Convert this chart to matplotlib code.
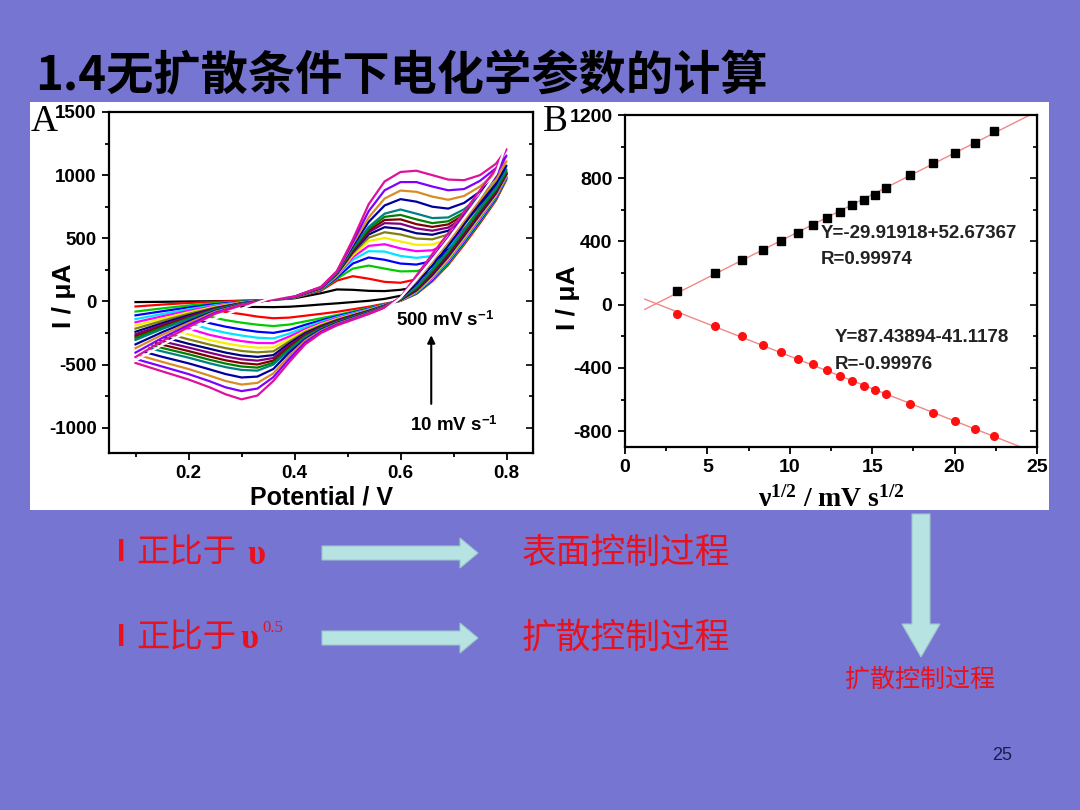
import numpy as np
import matplotlib
matplotlib.use("Agg")
import matplotlib.pyplot as plt
from matplotlib.patches import Rectangle, Polygon
from matplotlib.ticker import MultipleLocator
from matplotlib.transforms import Bbox, TransformedBbox

nan = np.nan

# ---------------- panel A : CVs at increasing scan rate ----------------
scan_rates = [10, 30, 50, 70, 90, 110, 130, 150, 170, 190, 210, 230, 250, 300, 350, 400, 450, 500]
curve_colors = ["#000000", "#FF0000", "#00CC00", "#0000FF", "#00E5FF", "#FF00FF",
                "#F5F000", "#808010", "#000080", "#800080", "#800000", "#008000",
                "#008080", "#0000A0", "#D98C26", "#8000FF", "#E0109A", "#FFFFFF"]

# forward sweep (0.1 -> 0.8 V)
E_fwd = [0.10, 0.15, 0.20, 0.25, 0.30, 0.35, 0.40, 0.45, 0.48, 0.51,
         0.54, 0.57, 0.60, 0.63, 0.66, 0.69, 0.72, 0.75, 0.78, 0.80]
I_fwd = [
    [-5, -3, 0, 2, 5, 10, 25, 65, 95, 92, 84, 82, 92, 112, 250, 420, 590, 760, 920, 1010],
    [-40, -25, -12, -2, 5, 12, 30, 85, 165, 200, 180, 155, 148, 175, 240, 390, 550, 710, 870, 965],
    [-80, -55, -32, -14, 0, 10, 30, 90, 180, 260, 284, 260, 238, 240, 275, 380, 540, 700, 860, 975],
    [-110, -78, -48, -22, -3, 10, 32, 95, 190, 300, 348, 330, 300, 292, 320, 400, 545, 705, 865, 980],
    [-140, -100, -62, -30, -6, 10, 33, 98, 200, 330, 398, 395, 360, 345, 360, 430, 560, 715, 870, 985],
    [-165, -118, -74, -36, -8, 10, 34, 100, 205, 350, 440, 453, 420, 398, 405, 460, 580, 725, 880, 990],
    [-190, -136, -86, -42, -10, 10, 35, 102, 210, 365, 478, 503, 475, 448, 450, 495, 600, 740, 890, 1000],
    [-215, -154, -98, -48, -12, 10, 35, 104, 215, 380, 505, 548, 530, 498, 492, 530, 625, 755, 900, 1005],
    [-240, -172, -110, -54, -14, 10, 36, 105, 218, 392, 530, 588, 575, 540, 528, 560, 645, 770, 910, 1010],
    [-260, -186, -120, -58, -16, 10, 36, 106, 220, 400, 548, 620, 615, 578, 560, 585, 665, 785, 920, 1015],
    [-275, -197, -127, -62, -17, 10, 37, 107, 222, 408, 562, 645, 650, 612, 590, 610, 685, 800, 930, 1020],
    [-290, -208, -134, -65, -18, 10, 37, 108, 224, 415, 575, 670, 685, 650, 620, 635, 705, 815, 940, 1030],
    [-305, -219, -141, -68, -19, 10, 38, 109, 226, 425, 590, 695, 728, 695, 660, 665, 730, 835, 955, 1045],
    [-340, -244, -157, -76, -22, 10, 38, 110, 230, 440, 630, 760, 810, 790, 750, 735, 780, 870, 985, 1075],
    [-370, -265, -171, -82, -25, 10, 39, 112, 233, 455, 665, 815, 878, 868, 830, 805, 835, 910, 1020, 1110],
    [-405, -290, -187, -90, -28, 10, 39, 113, 236, 470, 715, 880, 945, 945, 910, 880, 890, 955, 1055, 1155],
    [-440, -315, -203, -98, -30, 10, 40, 115, 240, 490, 770, 950, 1025, 1035, 1000, 965, 960, 1000, 1090, 1205],
    [-470, -345, -235, -135, -58, 20, 60, 150, 290, 560, 840, 1030, 1110, 1120, 1095, 1060, 1050, 1080, 1160, 1250],
]

# reverse sweep (0.8 -> lower limit)
E_rev = [0.80, 0.78, 0.75, 0.72, 0.69, 0.66, 0.63, 0.60, 0.57, 0.54, 0.51, 0.48,
         0.45, 0.42, 0.39, 0.36, 0.33, 0.30, 0.27, 0.24, 0.20, 0.15, 0.10]
I_rev = [
    [1010, 830, 640, 470, 310, 175, 70, 45, 20, 5, -5, -15, -24, -34, -42, -45, -44, nan, nan, nan, nan, nan, nan],
    [965, 800, 620, 450, 290, 160, 60, 5, -18, -42, -62, -82, -98, -113, -128, -133, -120, -100, nan, nan, nan, nan, nan],
    [975, 810, 632, 462, 300, 166, 62, 5, -22, -52, -80, -108, -133, -158, -183, -195, -184, -168, -148, nan, nan, nan, nan],
    [980, 818, 642, 472, 310, 172, 66, 6, -25, -58, -88, -117, -150, -185, -226, -249, -240, -222, -200, -172, nan, nan, nan],
    [985, 826, 652, 482, 318, 180, 70, 7, -27, -62, -94, -125, -162, -205, -255, -293, -287, -270, -248, -220, nan, nan, nan],
    [990, 833, 662, 492, 328, 188, 74, 8, -29, -66, -99, -132, -172, -220, -278, -330, -329, -314, -292, -265, -215, nan, nan],
    [1000, 842, 673, 503, 338, 196, 78, 9, -31, -69, -104, -139, -181, -232, -300, -364, -366, -353, -332, -305, -260, nan, nan],
    [1005, 850, 683, 513, 348, 204, 82, 10, -32, -72, -108, -145, -189, -242, -318, -395, -403, -392, -370, -342, -300, nan, nan],
    [1010, 858, 693, 524, 358, 212, 88, 12, -34, -75, -112, -150, -196, -252, -333, -425, -439, -428, -405, -375, -335, nan, nan],
    [1015, 866, 703, 535, 368, 222, 94, 14, -35, -78, -116, -154, -202, -262, -348, -448, -469, -458, -436, -406, -365, -315, nan],
    [1020, 875, 714, 546, 378, 232, 100, 16, -36, -80, -119, -158, -207, -270, -362, -468, -499, -488, -466, -436, -393, -342, nan],
    [1030, 885, 725, 558, 390, 242, 108, 18, -37, -82, -122, -162, -212, -278, -375, -485, -524, -515, -492, -462, -418, -368, nan],
    [1045, 898, 738, 570, 402, 254, 116, 20, -39, -85, -125, -166, -217, -285, -385, -500, -548, -542, -520, -490, -445, -395, nan],
    [1075, 930, 775, 610, 440, 285, 140, 25, -41, -88, -130, -171, -225, -300, -405, -535, -595, -602, -575, -538, -490, -438, nan],
    [1110, 960, 805, 640, 470, 315, 165, 28, -44, -92, -135, -177, -232, -310, -430, -570, -645, -658, -630, -588, -535, -478, nan],
    [1155, 1000, 840, 675, 505, 345, 185, 30, -47, -96, -140, -183, -240, -325, -455, -600, -690, -710, -680, -632, -575, -515, nan],
    [1205, 1050, 880, 710, 540, 375, 205, 32, -50, -100, -145, -190, -250, -340, -480, -630, -745, -775, -735, -680, -618, -553, nan],
    [1250, 1010, 830, 660, 490, 330, 175, 29, -70, -135, -190, -245, -315, -420, -570, -730, -840, -880, -840, -780, -700, -620, nan],
]
rev_end_E = [0.300, 0.268, 0.237, 0.218, 0.205, 0.190, 0.177, 0.165, 0.155,
             0.146, 0.139, 0.132, 0.126, 0.117, 0.110, 0.104, 0.100, 0.100]
rev_end_I = [-42, -82, -118, -151, -177, -205, -233, -260, -285,
             -308, -330, -350, -370, -400, -430, -460, -487, -545]

# ---------------- panel B : peak current vs sqrt(scan rate) ----------------
ipa = [88, 200, 282, 345, 402, 455, 505, 547, 587, 629, 663, 695, 741, 823, 895, 960, 1025, 1097]
ipc = [-59, -137, -200, -255, -301, -343, -375, -411, -451, -484, -514, -541, -564, -627, -684, -737, -783, -832]
fit_text_a = ["Y=-29.91918+52.67367", "R=0.99974"]
fit_text_c = ["Y=87.43894-41.1178", "R=-0.99976"]

bg = "#7676D2"
red_txt = "#E8121E"
arrow_col = "#B7E3E3"

plt.rcParams["font.family"] = ["Liberation Sans", "Noto Sans CJK SC", "DejaVu Sans"]
plt.rcParams["font.weight"] = "bold"
plt.rcParams["mathtext.fontset"] = "custom"
plt.rcParams["mathtext.rm"] = "Liberation Serif:bold"
plt.rcParams["mathtext.sf"] = "Liberation Sans:bold"
plt.rcParams["mathtext.default"] = "rm"
plt.rcParams["axes.unicode_minus"] = False

fig = plt.figure(figsize=(10.8, 8.1), dpi=100, facecolor=bg)

# slide layer in pixel coordinates
ov = fig.add_axes([0, 0, 1, 1], zorder=0)
ov.set_xlim(0, 1080)
ov.set_ylim(810, 0)
ov.axis("off")
ov.add_patch(Rectangle((30, 102), 1019, 408, facecolor="white", edgecolor="none"))

ov.text(35, 76, "1.4无扩散条件下电化学参数的计算", fontsize=34, fontweight="heavy",
        family=["Noto Sans CJK SC"], color="black", ha="left", va="center")
ov.text(31, 122, "A", family="Liberation Serif", fontweight="normal", fontsize=27, ha="left", va="center")
ov.text(543, 122, "B", family="Liberation Serif", fontweight="normal", fontsize=27, ha="left", va="center")

# ---- panel A ----
ax_a = fig.add_axes([109 / 1080, 1 - 453 / 810, 424 / 1080, 341 / 810], zorder=1)
for k in range(len(scan_rates)):
    E = np.concatenate([E_fwd, E_rev, [rev_end_E[k]]])
    I = np.concatenate([np.array(I_fwd[k], float), np.array(I_rev[k], float), [rev_end_I[k]]])
    ok = ~np.isnan(I)
    ax_a.plot(E[ok], I[ok], color=curve_colors[k], lw=1.6, solid_joinstyle="round")

ax_a.set_xlim(0.05, 0.85)
ax_a.set_ylim(-1200, 1500)
ax_a.xaxis.set_minor_locator(MultipleLocator(0.1))
ax_a.yaxis.set_major_locator(MultipleLocator(500))
ax_a.yaxis.set_minor_locator(MultipleLocator(250))
ax_a.set_xticks([0.2, 0.4, 0.6, 0.8])
ax_a.set_xticklabels(["0.2", "0.4", "0.6", "0.8"])
ax_a.tick_params(which="both", direction="out", width=1.3, labelsize=13.5, pad=4)
ax_a.tick_params(which="major", length=5)
ax_a.tick_params(which="minor", length=3)
ax_a.set_xlabel("Potential / V", fontsize=18, fontweight="bold")
ax_a.xaxis.set_label_coords(0.5, -0.095)
ax_a.set_ylabel("I / μA", fontsize=19, fontweight="bold")
ax_a.yaxis.set_label_coords(-0.078, 0.46)
for s in ax_a.spines.values():
    s.set_linewidth(1.6)
sec_a = ax_a.secondary_yaxis("right")
sec_a.yaxis.set_major_locator(MultipleLocator(500))
sec_a.yaxis.set_minor_locator(MultipleLocator(250))
sec_a.tick_params(which="both", direction="in", labelright=False, width=1.2)
sec_a.tick_params(which="major", length=5)
sec_a.tick_params(which="minor", length=3)

ax_a.text(0.592, -151, r"500 mV s$^{\mathsf{-1}}$", fontsize=13.5, ha="left", va="center")
ax_a.text(0.617, -984, r"10 mV s$^{\mathsf{-1}}$", fontsize=13.5, ha="left", va="center")
ax_a.annotate("", xy=(0.658, -246), xytext=(0.658, -833),
              arrowprops=dict(arrowstyle="-|>", lw=1.5, color="black", mutation_scale=11))

# ---- panel B ----
ax_b = fig.add_axes([625 / 1080, 1 - 447 / 810, 412 / 1080, 332 / 810], zorder=1)
sqrt_v = np.sqrt(scan_rates)
fit_x = np.array([1.2, 24.6])
pa = np.polyfit(sqrt_v, ipa, 1)
pc = np.polyfit(sqrt_v, ipc, 1)
ax_b.plot(fit_x, np.polyval(pa, fit_x), color="#F08888", lw=1.0)
ax_b.plot(fit_x, np.polyval(pc, fit_x), color="#F08888", lw=1.0)
ax_b.plot(sqrt_v, ipa, "s", color="black", ms=5.5)
ax_b.plot(sqrt_v, ipc, "o", color="#FF1010", ms=5.5)

ax_b.set_xlim(0, 25)
ax_b.set_ylim(-900, 1200)
ax_b.xaxis.set_major_locator(MultipleLocator(5))
ax_b.xaxis.set_minor_locator(MultipleLocator(2.5))
ax_b.yaxis.set_major_locator(MultipleLocator(400))
ax_b.yaxis.set_minor_locator(MultipleLocator(200))
ax_b.tick_params(which="both", direction="out", width=1.3, labelsize=14, pad=4)
ax_b.tick_params(which="major", length=5)
ax_b.tick_params(which="minor", length=3)
ax_b.set_ylabel("I / μA", fontsize=19, fontweight="bold")
ax_b.yaxis.set_label_coords(-0.11, 0.45)
ax_b.set_xlabel(r"ν$^{1/2}$ / mV s$^{1/2}$", family="Liberation Serif", fontsize=20, fontweight="bold")
ax_b.xaxis.set_label_coords(0.5, -0.118)
for s in ax_b.spines.values():
    s.set_linewidth(1.6)
sec_b = ax_b.secondary_yaxis("right")
sec_b.yaxis.set_major_locator(MultipleLocator(400))
sec_b.yaxis.set_minor_locator(MultipleLocator(200))
sec_b.tick_params(which="both", direction="in", labelright=False, width=1.2)
sec_b.tick_params(which="major", length=5)
sec_b.tick_params(which="minor", length=3)

ax_b.text(11.9, 452, fit_text_a[0], fontsize=13.5, color="#222222", ha="left", va="center")
ax_b.text(11.9, 284, fit_text_a[1], fontsize=13.5, color="#222222", ha="left", va="center")
ax_b.text(12.7, -210, fit_text_c[0], fontsize=13.5, color="#222222", ha="left", va="center")
ax_b.text(12.7, -379, fit_text_c[1], fontsize=13.5, color="#222222", ha="left", va="center")

# the picture is cropped just under the B axis title
crop = TransformedBbox(Bbox.from_extents(30 / 1080, 1 - 510 / 810, 1049 / 1080, 1 - 102 / 810), fig.transFigure)
ax_b.xaxis.label.set_clip_box(crop)
ax_b.xaxis.label.set_clip_on(True)

# ---- slide notes below the figure ----
for yc, sup in [(553, False), (638, True)]:
    ov.text(117, yc, "I", color=red_txt, fontsize=22, fontweight="bold", ha="left", va="center")
    ov.text(136, yc, "正比于", color=red_txt, fontsize=24, fontweight="normal",
            family=["Noto Sans CJK SC"], ha="left", va="center")
    if sup:
        ov.text(240, yc + 2, "υ", color=red_txt, fontsize=25, fontweight="bold",
                family="Liberation Serif", ha="left", va="center")
        ov.text(262, yc - 10, "0.5", color=red_txt, fontsize=12, fontweight="normal",
                family="Liberation Serif", ha="left", va="center")
    else:
        ov.text(247, yc + 2, "υ", color=red_txt, fontsize=25, fontweight="bold",
                family="Liberation Serif", ha="left", va="center")
    x0, x1, xh = 322, 478, 460
    ov.add_patch(Polygon([(x0, yc - 7), (xh, yc - 7), (xh, yc - 15), (x1, yc),
                          (xh, yc + 15), (xh, yc + 7), (x0, yc + 7)],
                         closed=True, facecolor=arrow_col, edgecolor="#9CC8C8", lw=0.8))

ov.text(522, 553, "表面控制过程", color=red_txt, fontsize=25, fontweight="normal",
        family=["Noto Sans CJK SC"], ha="left", va="center")
ov.text(522, 638, "扩散控制过程", color=red_txt, fontsize=25, fontweight="normal",
        family=["Noto Sans CJK SC"], ha="left", va="center")

ov.add_patch(Polygon([(912, 514), (930, 514), (930, 624), (940, 624), (921, 657),
                      (902, 624), (912, 624)],
                     closed=True, facecolor=arrow_col, edgecolor="#9CC8C8", lw=0.8))
ov.text(920, 680, "扩散控制过程", color=red_txt, fontsize=18, fontweight="normal",
        family=["Noto Sans CJK SC"], ha="center", va="center")

ov.text(1002, 755, "25", color="#1B1B4B", fontsize=13, fontweight="normal", ha="center", va="center")

fig.savefig("out.png", dpi=100, facecolor=bg)
